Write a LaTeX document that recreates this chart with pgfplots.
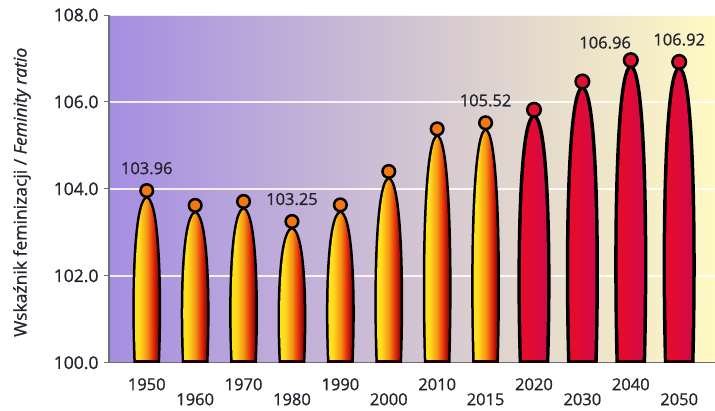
\documentclass[border=0pt]{standalone}
\usepackage{pgfplots}
\pgfplotsset{compat=1.18}
\usepackage{pgfplotstable}
\usepackage{fontspec}
\setmainfont{Open Sans}
\newfontfamily\semib{Open Sans}[FakeBold=0.8]

\definecolor{bgL}{RGB}{165,142,226}
\definecolor{bgM}{RGB}{238,212,232}
\definecolor{bgR}{RGB}{255,249,196}
\definecolor{barY}{RGB}{255,222,30}
\definecolor{barO}{RGB}{246,150,20}
\definecolor{barR}{RGB}{225,40,10}
\definecolor{barD}{RGB}{115,0,5}
\definecolor{crL}{RGB}{232,12,40}
\definecolor{crM}{RGB}{222,10,55}
\definecolor{crR}{RGB}{205,12,75}
\definecolor{mkO}{RGB}{242,120,20}
\definecolor{mkR}{RGB}{226,16,48}
\definecolor{txt}{RGB}{35,35,45}
\definecolor{axc}{RGB}{110,110,120}

\pgfdeclarehorizontalshading{orbar}{100bp}{color(0bp)=(barY); color(25bp)=(barY); color(36bp)=(barY); color(50bp)=(barO); color(62bp)=(barR); color(72bp)=(barD); color(100bp)=(barD)}
\pgfdeclarehorizontalshading{rdbar}{100bp}{color(0bp)=(crL); color(25bp)=(crL); color(50bp)=(crM); color(75bp)=(crR); color(100bp)=(crR)}

\pgfplotstableread{
x y
0 103.96
1 103.62
2 103.71
3 103.25
4 103.63
5 104.40
6 105.38
7 105.52
}\orangedata
\pgfplotstableread{
x y
8 105.82
9 106.47
10 106.96
11 106.92
}\reddata
\pgfplotstableread{
x y lab
0 103.96 103.96
3 103.25 103.25
7 105.52 105.52
9.47 106.85 106.96
11 106.92 106.92
}\labdata

% spindle: #1 shading, #2 half width, #3 outline width, #4 outline xshift, #5 marker colour
\pgfplotsset{
  spindle/.style n args={5}{
    scatter, only marks, draw=black, mark=*,
    mark options={draw=black, line width=2.5pt},
    point meta=explicit, point meta min=100, point meta max=108,
    scatter/@pre marker code/.code={%
      \pgfmathsetmacro\Hh{\pgfplotspointmetatransformed*0.347625}%
      \pgfmathsetmacro\Ll{\Hh-8}%
      \pgfmathsetmacro\Pa{-\Hh+0.42*\Ll}%
      \pgfmathsetmacro\Pb{-8-0.04*\Ll}%
      \pgfmathsetmacro\Hb{\Hh+3}%
      \def\spath{(-#2*0.87,-\Hb pt) .. controls (-#2*1.12,\Pa pt) and (-#2*0.92,\Pb pt) .. (0pt,-8pt) .. controls (#2*0.92,\Pb pt) and (#2*1.12,\Pa pt) .. (#2*0.87,-\Hb pt) -- cycle}%
      \begin{scope}
        \path[clip, draw=none] (-30pt,-\Hh pt) rectangle (30pt,20pt);
        \begin{scope}[xshift=#4]
          \path[fill=black, draw=black, line width=#3, line join=round] \spath;
        \end{scope}
        \path[shading=#1, draw=none] \spath;
        \path[fill=black!75!barD, draw=none] (-#2,-\Hh pt) rectangle (#2,-\Hh pt+3pt);
      \end{scope}
      \scope[fill=#5, draw=black]%
    },
    scatter/@post marker code/.code={\endscope},
  }
}

\begin{document}
\begin{tikzpicture}
\begin{axis}[
  at={(0,0)}, anchor=south west,
  scale only axis, width=606pt, height=347.7pt,
  xmin=-0.78, xmax=11.74, ymin=100, ymax=108,
  axis x line*=bottom, axis y line*=left,
  axis line style={-, draw=axc, line width=1.2pt},
  axis background/.style={shade, left color=bgL, middle color=bgM, right color=bgR},
  ytick={100,102,104,106,108},
  ymajorgrids, grid style={white, line width=1.8pt, opacity=0.85},
  xtick={0,...,11},
  xticklabels={1950,\raisebox{-15pt}{1960},1970,\raisebox{-15pt}{1980},1990,\raisebox{-15pt}{2000},2010,\raisebox{-15pt}{2015},2020,\raisebox{-15pt}{2030},2040,\raisebox{-15pt}{2050}},
  tick align=outside, major tick length=5pt,
  major x tick style={draw=none},
  major y tick style={draw=axc, line width=1pt},
  tick label style={font=\semib\fontsize{16.5}{19}\selectfont, text=txt},
  yticklabel style={xshift=-2pt, font=\semib\fontsize{17.5}{19}\selectfont,
    /pgf/number format/fixed, /pgf/number format/fixed zerofill,
    /pgf/number format/precision=1, /pgf/number format/assume math mode=true},
  xticklabel style={anchor=base, yshift=-22.5pt},
  ylabel={Wskaźnik feminizacji / \textit{Feminity ratio}},
  every axis y label/.style={at={(axis description cs:-0.1436,0.49)}, rotate=90, anchor=center, font=\semib\fontsize{17.5}{19}\selectfont, text=txt},
]
\addplot[spindle={orbar}{12.3pt}{5pt}{-1.5pt}{mkO}, mark size=6.3pt] table[x=x,y=y,meta=y] {\orangedata};
\addplot[spindle={rdbar}{13.5pt}{7pt}{0pt}{mkR}, mark size=6.8pt] table[x=x,y=y,meta=y] {\reddata};
\addplot[only marks, mark=none, point meta=explicit symbolic,
  nodes near coords,
  nodes near coords style={anchor=base, yshift=16.5pt, font=\semib\fontsize{16.5}{19}\selectfont, text=txt},
] table[x=x,y=y,meta=lab] {\labdata};
\end{axis}
\pgfresetboundingbox
\path (-109pt,-47.3pt) rectangle (606pt,362.7pt);
\end{tikzpicture}
\end{document}
